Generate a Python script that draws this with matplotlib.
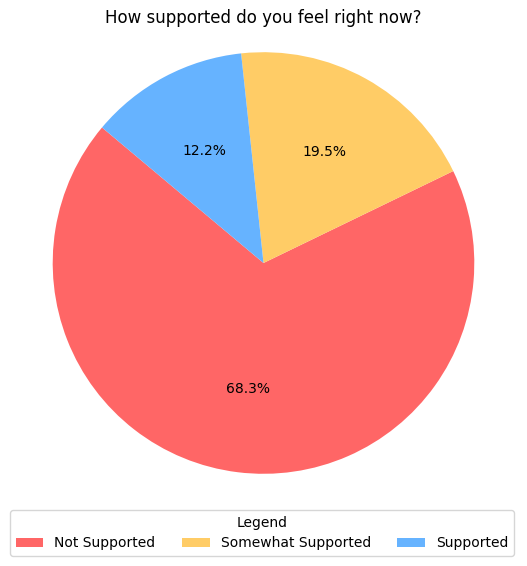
import matplotlib.pyplot as plt

# survey answers
labels = ["Not Supported", "Somewhat Supported", "Supported"]
counts = [56, 16, 10]
colors = ["#ff6666", "#ffcc66", "#66b3ff"]

W, H = 527, 566
fig = plt.figure(figsize=(W / 100, H / 100), dpi=100)

# pie centre at (263, 263) px from top, radius ~211 px
ax_top, ax_h = 30, 466
ax = fig.add_axes([0, (H - ax_top - ax_h) / H, 1, ax_h / H])
wedges, texts, autotexts = ax.pie(
    counts,
    colors=colors,
    autopct="%1.1f%%",
    startangle=140,
)
ax.set_xlim(-1.25, 1.25)
ax.set_ylim(-ax_h / (2 * W / 2.5), ax_h / (2 * W / 2.5))
ax.set_aspect("equal")
ax.set_title("How supported do you feel right now?", fontsize=12, pad=5)

fig.legend(
    wedges,
    labels,
    title="Legend",
    loc="lower left",
    ncol=3,
    mode="expand",
    bbox_to_anchor=(10 / W, 10 / H, 504 / W, 50 / H),
    borderaxespad=0,
)

fig.savefig("out.png", dpi=100)
